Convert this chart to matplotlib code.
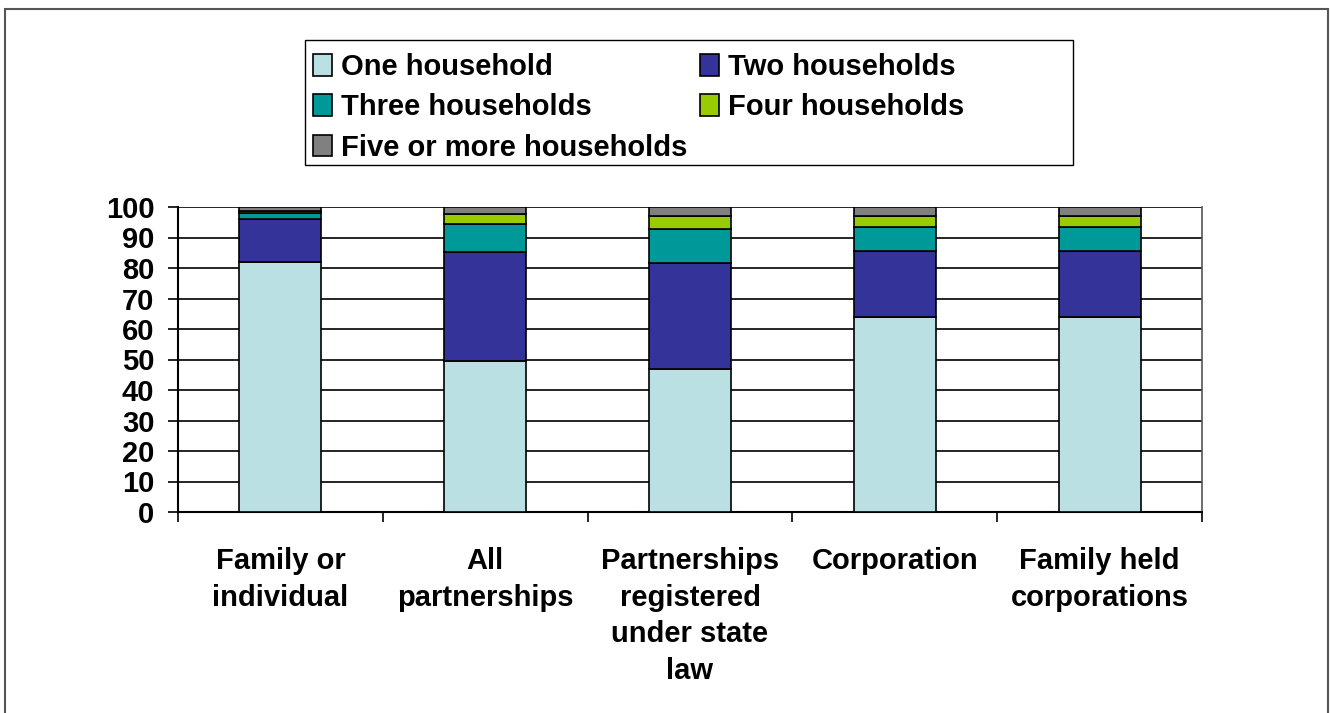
import numpy as np
import matplotlib
matplotlib.use("Agg")
from matplotlib import pyplot as plt
from matplotlib.patches import Rectangle

categories = ["Family or\nindividual", "All\npartnerships",
              "Partnerships\nregistered\nunder state\nlaw", "Corporation",
              "Family held\ncorporations"]

one_household = [82.0, 49.5, 46.9, 64.0, 64.0]
two_households = [14.0, 35.6, 34.6, 21.6, 21.6]
three_households = [2.1, 9.4, 11.3, 7.9, 7.9]
four_households = [0.6, 3.2, 4.3, 3.6, 3.6]
five_or_more = [1.3, 2.3, 2.9, 2.9, 2.9]

series_labels = ["One household", "Two households", "Three households",
                 "Four households", "Five or more households"]
series_colors = ["#BBE0E3", "#333399", "#009999", "#99CC00", "#808080"]

plt.rcParams["font.family"] = ["Liberation Sans", "DejaVu Sans"]
plt.rcParams["font.weight"] = "bold"

W, H = 1330, 713
fig = plt.figure(figsize=(W / 100, H / 100), dpi=100)
ax = fig.add_axes([178 / W, 1 - 512 / H, (1202 - 178) / W, (512 - 207) / H])

x = np.arange(len(categories))
bottom = np.zeros(len(categories))
handles = []
for values, label, color in zip(
        [one_household, two_households, three_households, four_households, five_or_more],
        series_labels, series_colors):
    bars = ax.bar(x, values, width=0.4, bottom=bottom, color=color,
                  edgecolor="black", linewidth=1.2, label=label, zorder=3)
    handles.append(bars)
    bottom += np.array(values)

ax.set_xlim(-0.5, len(categories) - 0.5)
ax.set_ylim(0, 100)
ax.set_yticks(np.arange(0, 101, 10))
ax.tick_params(axis="y", labelsize=21, length=7, width=1.2, pad=10, direction="out")
ax.yaxis.grid(True, color="black", linewidth=1.2, zorder=0)

ax.set_xticks(x)
ax.set_xticklabels(categories, fontsize=21, fontweight="bold", linespacing=1.4)
ax.set_xticks(np.arange(-0.5, len(categories), 1.0), minor=True)
ax.tick_params(axis="x", which="major", length=0, pad=25)
ax.tick_params(axis="x", which="minor", length=7, width=1.2, direction="out")

for side in ["left", "bottom"]:
    ax.spines[side].set_linewidth(1.5)
    ax.spines[side].set_color("black")
ax.spines["top"].set_visible(False)
ax.spines["right"].set_color("#555555")
ax.spines["right"].set_linewidth(1.2)

# legend reads row by row: One | Two / Three | Four / Five
order = [0, 2, 4, 1, 3]
leg = fig.legend([handles[i] for i in order], [series_labels[i] for i in order],
                 ncol=2, loc="upper left",
                 bbox_to_anchor=(313 / W, 1 - 53 / H),
                 prop={"size": 21, "weight": "bold"}, frameon=False,
                 handlelength=0.65, handleheight=0.75,
                 handletextpad=0.3, columnspacing=0.45, labelspacing=0.42,
                 borderpad=0.0, borderaxespad=0)
fig.patches.append(Rectangle((305 / W, 1 - 165 / H), (1073 - 305) / W, (165 - 40) / H,
                             transform=fig.transFigure, fill=False,
                             edgecolor="black", linewidth=1.0))

# outer frame around the whole chart
fig.patches.append(Rectangle((5 / W, -0.1), (1328 - 5) / W, 1.1 - 9 / H,
                             transform=fig.transFigure, fill=False,
                             edgecolor="#555555", linewidth=1.5))

fig.savefig("out.png", dpi=100)
